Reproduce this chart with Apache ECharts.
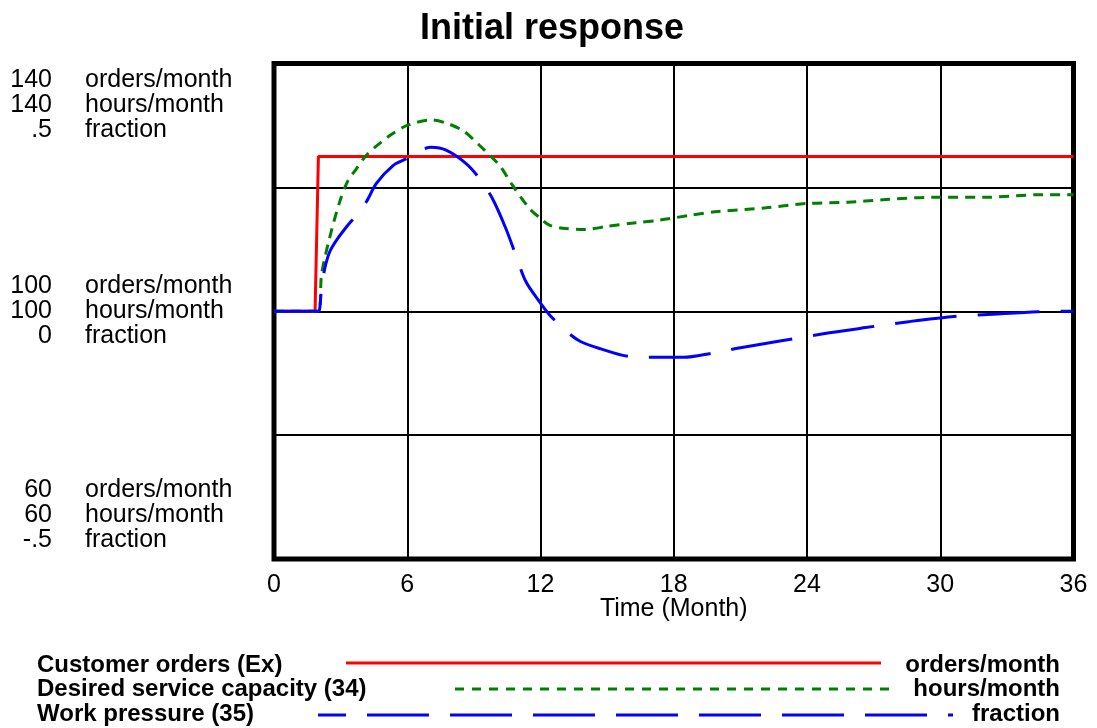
<!DOCTYPE html>
<html>
<head>
<meta charset="utf-8">
<title>Initial response</title>
<script src="https://cdn.jsdelivr.net/npm/echarts@6/dist/echarts.min.js"></script>
<style>
  html, body { margin: 0; padding: 0; background: #fff; }
  #chart { width: 1097px; height: 728px; }
</style>
</head>
<body>
<div id="chart"></div>
<script>
// time ticks (Month)
var timeTicks = [0, 6, 12, 18, 24, 30, 36];

// left axis tick labels, one column per unit
var orderTicks = [140, 100, 60];
var hourTicks = [140, 100, 60];
var fractionTicks = ['.5', '0', '-.5'];
var unitNames = ['orders/month', 'hours/month', 'fraction'];

// Customer orders (Ex)
var ordersT = [0, 1.85, 2, 36];
var ordersV = [100, 100, 125, 125];

// Desired service capacity (34)
var capacityT = [0, 2, 2.14, 2.5, 2.96, 3.32, 3.71, 4.16, 4.76, 5.35, 6, 7.08, 7.9, 8.57, 9.25, 10.14,
  10.73, 11.5, 12, 12.4, 13, 14, 15, 16.3, 17.35, 18.75, 20, 22.15, 24, 25.85, 27.4, 29.7, 32, 34.4, 36];
var capacityV = [100, 100, 105.9, 111.8, 117.7, 121, 123, 125.2, 127.1, 128.7, 130, 130.9, 130.2, 129, 126.8, 123.6,
  120.4, 116.6, 115, 113.9, 113.4, 113.2, 113.7, 114.3, 114.7, 115.5, 116.1, 116.7, 117.4, 117.6, 118, 118.4, 118.4, 118.8, 118.8];

// Work pressure (35)
var pressureT = [0, 2, 2.06, 2.14, 2.29, 2.51, 2.81, 3.26, 3.71, 4.16, 4.61, 5.36, 5.96, 6.4, 7.08, 7.75, 8.65,
  9.25, 9.84, 10.44, 10.89, 11.34, 11.94, 12.4, 13.18, 13.8, 14.72, 15.96, 17.5, 18.44, 19.68, 21.07, 22.78,
  24.94, 26.64, 28.58, 30.5, 32.37, 34.4, 36];
var pressureV = [0, 0, 0.006, 0.046, 0.087, 0.12, 0.143, 0.17, 0.194, 0.221, 0.258, 0.294, 0.308, 0.321, 0.331, 0.325, 0.298,
  0.268, 0.227, 0.167, 0.113, 0.06, 0.02, -0.007, -0.041, -0.061, -0.076, -0.091, -0.093, -0.093, -0.085, -0.073, -0.06,
  -0.044, -0.033, -0.021, -0.011, -0.006, -0.001, 0];

function pairs(ts, vs) {
  var out = [];
  for (var i = 0; i < ts.length; i++) out.push([ts[i], vs[i]]);
  return out;
}

var FONT = '"Liberation Sans", Arial, sans-serif';

// stack three lines per tick; pad top/bottom group so they sit inside the frame
function stackLabel(i, lines) {
  var body = lines.map(function (s) { return '{t|' + s + '}'; }).join('\n');
  if (i === 0) return '{sp| }\n' + body;
  if (i === 2) return body + '\n{sp2| }';
  return body;
}

function numberLabel(value) {
  var i = orderTicks.indexOf(value);
  if (i < 0) return '';
  return stackLabel(i, [orderTicks[i], hourTicks[i], fractionTicks[i]]);
}

function unitLabel(value) {
  var i = orderTicks.indexOf(value);
  if (i < 0) return '';
  return stackLabel(i, unitNames);
}

var labelRich = {
  t: { fontFamily: FONT, fontSize: 25, color: '#000', lineHeight: 25 },
  sp: { fontSize: 10, lineHeight: 83 },
  sp2: { fontSize: 10, lineHeight: 88 }
};

var chart = echarts.init(document.getElementById('chart'));

var option = {
  backgroundColor: '#fff',
  animation: false,
  title: {
    text: 'Initial response',
    left: 415,
    top: 6,
    textStyle: { fontFamily: FONT, fontSize: 36, fontWeight: 'bold', color: '#000' }
  },
  grid: {
    left: 274, right: 23.5, top: 63.5, bottom: 169,
    show: true, borderColor: '#000', borderWidth: 5,
    outerBoundsMode: 'none'
  },
  xAxis: {
    type: 'value',
    min: 0, max: 36, interval: 6,
    name: 'Time (Month)',
    nameLocation: 'middle',
    nameGap: 38,
    nameMoveOverlap: false,
    nameTextStyle: { fontFamily: FONT, fontSize: 25, color: '#000' },
    axisLine: { show: false },
    axisTick: { show: false },
    axisLabel: {
      fontFamily: FONT, fontSize: 25, color: '#000', margin: 14,
      formatter: function (v) { return timeTicks.indexOf(v) >= 0 ? String(v) : ''; }
    },
    splitLine: { show: true, lineStyle: { color: '#000', width: 2 } }
  },
  yAxis: [
    {
      type: 'value',
      min: 60, max: 140, interval: 20,
      axisLine: { show: false },
      axisTick: { show: false },
      splitLine: { show: true, lineStyle: { color: '#000', width: 2 } },
      axisLabel: {
        margin: 222,
        align: 'right',
        color: '#000',
        fontFamily: FONT,
        fontSize: 25,
        formatter: numberLabel,
        rich: labelRich
      }
    },
    { type: 'value', min: 60, max: 140, show: false },
    { type: 'value', min: -0.5, max: 0.5, show: false },
    {
      type: 'value',
      position: 'left',
      min: 60, max: 140, interval: 20,
      axisLine: { show: false },
      axisTick: { show: false },
      splitLine: { show: false },
      axisLabel: {
        margin: 189,
        align: 'left',
        color: '#000',
        fontFamily: FONT,
        fontSize: 25,
        formatter: unitLabel,
        rich: labelRich
      }
    }
  ],
  series: [
    {
      name: 'Customer orders (Ex)',
      type: 'line', yAxisIndex: 0, showSymbol: false,
      lineStyle: { color: '#ff0000', width: 3 },
      data: pairs(ordersT, ordersV)
    },
    {
      name: 'Desired service capacity (34)',
      type: 'line', yAxisIndex: 1, showSymbol: false, smooth: 0.3,
      lineStyle: { color: '#008000', width: 3, type: [10, 7] },
      data: pairs(capacityT, capacityV)
    },
    {
      name: 'Work pressure (35)',
      type: 'line', yAxisIndex: 2, showSymbol: false, smooth: 0.3,
      lineStyle: { color: '#0000ff', width: 3, type: [62, 21] },
      data: pairs(pressureT, pressureV)
    }
  ],
  graphic: [
    { type: 'text', left: 37, top: 653, style: { text: 'Customer orders (Ex)', font: 'bold 24px ' + FONT, fill: '#000' } },
    { type: 'text', left: 37, top: 677, style: { text: 'Desired service capacity (34)', font: 'bold 24px ' + FONT, fill: '#000' } },
    { type: 'text', left: 37, top: 702, style: { text: 'Work pressure (35)', font: 'bold 24px ' + FONT, fill: '#000' } },
    { type: 'text', right: 37, top: 653, style: { text: 'orders/month', font: 'bold 24px ' + FONT, fill: '#000' } },
    { type: 'text', right: 37, top: 677, style: { text: 'hours/month', font: 'bold 24px ' + FONT, fill: '#000' } },
    { type: 'text', right: 37, top: 702, style: { text: 'fraction', font: 'bold 24px ' + FONT, fill: '#000' } },
    { type: 'line', shape: { x1: 346, y1: 663, x2: 881, y2: 663 }, style: { stroke: '#ff0000', lineWidth: 3 } },
    { type: 'line', shape: { x1: 455, y1: 689, x2: 892, y2: 689 }, style: { stroke: '#008000', lineWidth: 3, lineDash: [9, 8] } },
    { type: 'line', shape: { x1: 318, y1: 715, x2: 953, y2: 715 }, style: { stroke: '#0000ff', lineWidth: 3, lineDash: [62, 21], lineDashOffset: 34 } }
  ]
};

chart.setOption(option);
window.addEventListener('resize', chart.resize);
</script>
</body>
</html>
